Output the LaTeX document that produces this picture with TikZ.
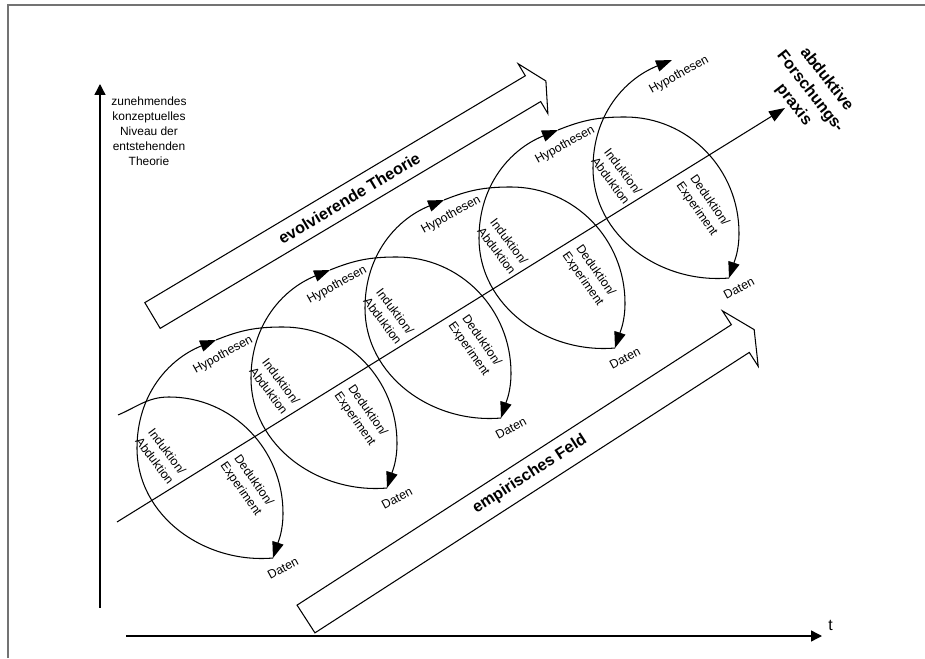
\documentclass[tikz,border=0pt]{standalone}
\usepackage{fontspec}
\setmainfont{Liberation Sans}
\usepackage{tikz}
\usetikzlibrary{arrows.meta}
\tikzset{>={Triangle[length=3.2mm,width=2.3mm]}}
\tikzset{
  spiral/.style={->,line width=0.6pt},
  axis/.style={-{Triangle[length=2.2mm,width=2.2mm]},line width=0.8pt},
  lbl/.style={font=\fontsize{7}{8.8}\selectfont,align=center,inner sep=0pt},
  boldlbl/.style={font=\fontsize{9.2}{11.8}\selectfont\bfseries,align=center,inner sep=0pt},
  blockarrow/.style={line width=0.6pt,line join=miter},
  frame/.style={draw=black!55,line width=0.7pt}
}
\newcommand{\tempx}{0}
\newcommand{\tempy}{0}

\begin{document}
\begin{tikzpicture}
\useasboundingbox (0,0) rectangle (18.5,13.16);

%%% Frame
\draw [frame] (0.16,0) -- (0.16,13.06) -- (18.5,13.06);

%%% Axes
\coordinate (y0) at (2.0,1.0); \coordinate (y1) at (2.0,11.48);
\coordinate (x0) at (2.52,0.44); \coordinate (x1) at (16.44,0.44);
\draw [axis] (y0) -- (y1);
\draw [axis] (x0) -- (x1);
\node[font=\fontsize{9}{10}\selectfont,anchor=south west,inner sep=0pt] (t) at (16.56,0.55) {t};
\node[lbl,font=\fontsize{6.8}{8.5}\selectfont] (niveau) at (2.98,10.54) {zunehmendes\\konzeptuelles\\Niveau der\\entstehenden\\Theorie};

%%% Block arrows
\begin{scope}[shift={(3.05,6.85)},rotate=30.8]
\draw [blockarrow] (0,-0.30) -- (8.86,-0.30) -- (8.86,-0.58) -- (9.16,0) -- (8.86,0.58) -- (8.86,0.30) -- (0,0.30) -- cycle;
\node[boldlbl,rotate=30.8] (theorie) at (4.58,0) {evolvierende Theorie};
\end{scope}
\begin{scope}[shift={(6.12,0.78)},rotate=32.85]
\draw [blockarrow] (0,-0.33) -- (10.34,-0.33) -- (10.34,-0.66) -- (10.67,0) -- (10.34,0.66) -- (10.34,0.33) -- (0,0.33) -- cycle;
\node[boldlbl,rotate=32.85] (feld) at (5.33,0) {empirisches Feld};
\end{scope}

%%% Research axis
\coordinate (p0) at (2.34,2.72); \coordinate (p1) at (15.70,11.0);
\draw [spiral] (p0) -- (p1);
\node[boldlbl,rotate=-52] (praxis) at (16.2,11.32) {abduktive\\Forschungs-\\praxis};

%%% Spiral
\coordinate (s) at (2.36,4.86);

%%% 1st loop
\renewcommand{\tempx}{5.46}\renewcommand{\tempy}{2.00}
\coordinate (t1) at (\tempx-2.08,\tempy+3.22); \coordinate (r1) at (\tempx+0.20,\tempy+0.90);
\coordinate (d1) at (\tempx,\tempy); \coordinate (l1) at (\tempx-2.72,\tempy+2.20); \coordinate (h1) at (\tempx-1.14,\tempy+4.36);
\draw [spiral] (s) to[out=23,in=180] (t1) to[out=0,in=90] (r1) to[out=-90,in=72] (d1);
\draw [spiral] (d1) to[out=185,in=-90] (l1) to[out=90,in=202] (h1);
\node[lbl,rotate=29] (hyp1) at (\tempx-1.00,\tempy+4.06) {Hypothesen};
\node[lbl,rotate=-53] (ind1) at (\tempx-2.24,\tempy+2.04) {Induktion/\\Abduktion};
\node[lbl,rotate=-55] (ded1) at (\tempx-0.52,\tempy+1.46) {Deduktion/\\Experiment};
\node[lbl,rotate=28] (dat1) at (\tempx+0.20,\tempy-0.20) {Daten};

%%% 2nd loop
\renewcommand{\tempx}{7.74}\renewcommand{\tempy}{3.40}
\coordinate (t2) at (\tempx-2.08,\tempy+3.22); \coordinate (r2) at (\tempx+0.20,\tempy+0.90);
\coordinate (d2) at (\tempx,\tempy); \coordinate (l2) at (\tempx-2.72,\tempy+2.20); \coordinate (h2) at (\tempx-1.14,\tempy+4.36);
\draw [spiral] (h1) to[out=22,in=180] (t2) to[out=0,in=90] (r2) to[out=-90,in=72] (d2);
\draw [spiral] (d2) to[out=185,in=-90] (l2) to[out=90,in=202] (h2);
\node[lbl,rotate=29] (hyp2) at (\tempx-1.00,\tempy+4.06) {Hypothesen};
\node[lbl,rotate=-53] (ind2) at (\tempx-2.24,\tempy+2.04) {Induktion/\\Abduktion};
\node[lbl,rotate=-55] (ded2) at (\tempx-0.52,\tempy+1.46) {Deduktion/\\Experiment};
\node[lbl,rotate=28] (dat2) at (\tempx+0.20,\tempy-0.20) {Daten};

%%% 3rd loop
\renewcommand{\tempx}{10.02}\renewcommand{\tempy}{4.80}
\coordinate (t3) at (\tempx-2.08,\tempy+3.22); \coordinate (r3) at (\tempx+0.20,\tempy+0.90);
\coordinate (d3) at (\tempx,\tempy); \coordinate (l3) at (\tempx-2.72,\tempy+2.20); \coordinate (h3) at (\tempx-1.14,\tempy+4.36);
\draw [spiral] (h2) to[out=22,in=180] (t3) to[out=0,in=90] (r3) to[out=-90,in=72] (d3);
\draw [spiral] (d3) to[out=185,in=-90] (l3) to[out=90,in=202] (h3);
\node[lbl,rotate=29] (hyp3) at (\tempx-1.00,\tempy+4.06) {Hypothesen};
\node[lbl,rotate=-53] (ind3) at (\tempx-2.24,\tempy+2.04) {Induktion/\\Abduktion};
\node[lbl,rotate=-55] (ded3) at (\tempx-0.52,\tempy+1.46) {Deduktion/\\Experiment};
\node[lbl,rotate=28] (dat3) at (\tempx+0.20,\tempy-0.20) {Daten};

%%% 4th loop
\renewcommand{\tempx}{12.30}\renewcommand{\tempy}{6.20}
\coordinate (t4) at (\tempx-2.08,\tempy+3.22); \coordinate (r4) at (\tempx+0.20,\tempy+0.90);
\coordinate (d4) at (\tempx,\tempy); \coordinate (l4) at (\tempx-2.72,\tempy+2.20); \coordinate (h4) at (\tempx-1.14,\tempy+4.36);
\draw [spiral] (h3) to[out=22,in=180] (t4) to[out=0,in=90] (r4) to[out=-90,in=72] (d4);
\draw [spiral] (d4) to[out=185,in=-90] (l4) to[out=90,in=202] (h4);
\node[lbl,rotate=29] (hyp4) at (\tempx-1.00,\tempy+4.06) {Hypothesen};
\node[lbl,rotate=-53] (ind4) at (\tempx-2.24,\tempy+2.04) {Induktion/\\Abduktion};
\node[lbl,rotate=-55] (ded4) at (\tempx-0.52,\tempy+1.46) {Deduktion/\\Experiment};
\node[lbl,rotate=28] (dat4) at (\tempx+0.20,\tempy-0.20) {Daten};

%%% 5th loop
\renewcommand{\tempx}{14.58}\renewcommand{\tempy}{7.60}
\coordinate (t5) at (\tempx-2.08,\tempy+3.22); \coordinate (r5) at (\tempx+0.20,\tempy+0.90);
\coordinate (d5) at (\tempx,\tempy); \coordinate (l5) at (\tempx-2.72,\tempy+2.20); \coordinate (h5) at (\tempx-1.14,\tempy+4.36);
\draw [spiral] (h4) to[out=22,in=180] (t5) to[out=0,in=90] (r5) to[out=-90,in=72] (d5);
\draw [spiral] (d5) to[out=185,in=-90] (l5) to[out=90,in=202] (h5);
\node[lbl,rotate=29] (hyp5) at (\tempx-1.00,\tempy+4.06) {Hypothesen};
\node[lbl,rotate=-53] (ind5) at (\tempx-2.24,\tempy+2.04) {Induktion/\\Abduktion};
\node[lbl,rotate=-55] (ded5) at (\tempx-0.52,\tempy+1.46) {Deduktion/\\Experiment};
\node[lbl,rotate=28] (dat5) at (\tempx+0.20,\tempy-0.20) {Daten};

\end{tikzpicture}
\end{document}
